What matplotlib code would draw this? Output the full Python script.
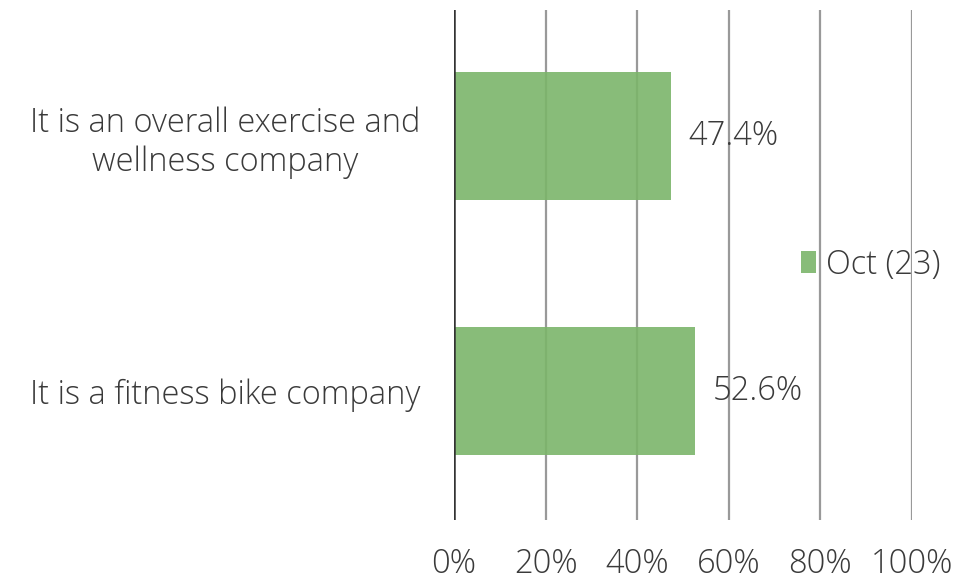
import matplotlib
matplotlib.use("Agg")
import matplotlib.pyplot as plt

categories = ["It is a fitness bike company", "It is an overall exercise and\nwellness company"]
values = [52.6, 47.4]
series_name = "Oct (23)"
xticks = [0, 20, 40, 60, 80, 100]
xtick_labels = ["0%", "20%", "40%", "60%", "80%", "100%"]

plt.rcParams['font.family'] = ['Open Sans', 'DejaVu Sans']
plt.rcParams['font.weight'] = 'light'
FS = 23.5
TC = '#3a3a3a'

fig = plt.figure(figsize=(9.54, 5.8), dpi=100)
ax = fig.add_axes([454/954, 1-520/580, (912-454)/954, 510/580])

ax.set_xlim(0, 100)
ax.set_ylim(-0.506, 1.494)
for x in xticks[1:]:
    ax.axvline(x, color='#999999', lw=1.6, zorder=1)
ax.axvline(0, color='#333333', lw=1.8, zorder=3)

bars = ax.barh(range(len(categories)), values, height=0.5, color='#7bb56a', alpha=0.9,
               label=series_name, zorder=2)
for i, v in enumerate(values):
    ax.text(v + 3.8, i, f"{v:.1f}%", va='center', ha='left', fontsize=FS, color=TC, zorder=4)

ax.set_yticks(range(len(categories)))
ax.set_yticklabels(categories, fontsize=FS, color=TC, linespacing=1.2, ha='right',
                   multialignment='center')
ax.set_xticks(xticks)
ax.set_xticklabels(xtick_labels, fontsize=FS, color=TC)
ax.tick_params(axis='x', length=0, pad=20)
ax.tick_params(axis='y', length=0, pad=24)
for s in ax.spines.values():
    s.set_visible(False)

leg = ax.legend(loc='center left', bbox_to_anchor=(0.73, 0.5), frameon=False, fontsize=FS,
                handlelength=0.45, handleheight=0.65, handletextpad=0.3, labelcolor=TC,
                borderaxespad=0)
leg.set_zorder(5)

fig.savefig("out.png", dpi=100, facecolor='white')
